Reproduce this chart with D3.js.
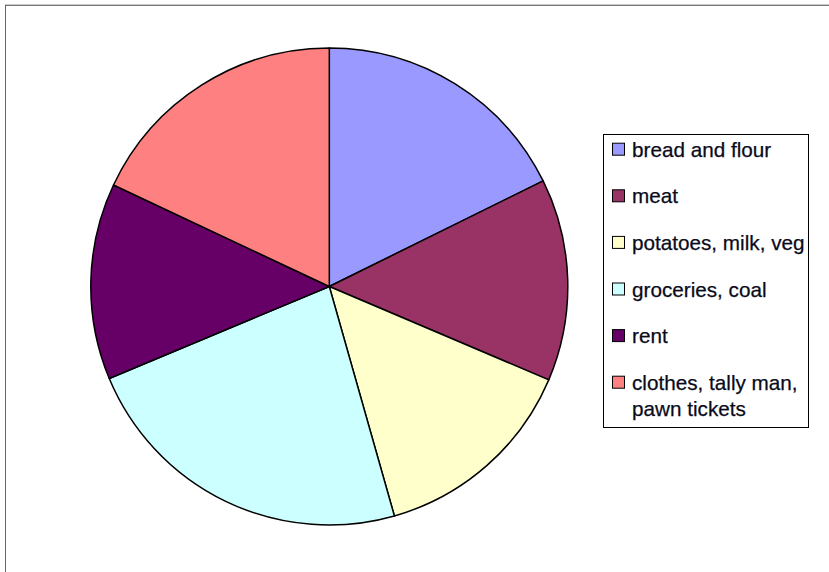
<!DOCTYPE html>
<html>
<head>
<meta charset="utf-8">
<script src="https://cdn.jsdelivr.net/npm/d3@7"></script>
<style>
  html, body { margin: 0; padding: 0; background: #fff; }
  #chart { width: 829px; height: 572px; }
</style>
</head>
<body>
<div id="chart"></div>
<script>
// weekly budget shares
const categories = ['bread and flour', 'meat', 'potatoes, milk, veg', 'groceries, coal', 'rent', 'clothes, tally man, pawn tickets'];
const values = [17.7, 13.7, 14.2, 23.1, 13.3, 18.0];
const colors = ['#9999FF', '#993366', '#FFFFCC', '#CCFFFF', '#660066', '#FF8080'];
// legend label lines
const legendLines = [['bread and flour'], ['meat'], ['potatoes, milk, veg'], ['groceries, coal'], ['rent'], ['clothes, tally man,', 'pawn tickets']];

const W = 829, H = 572;
const svg = d3.select('#chart').append('svg')
  .attr('width', W)
  .attr('height', H)
  .style('display', 'block');

// chart area frame (only top/left edges fall inside the picture)
svg.append('line').attr('x1', 5).attr('x2', W).attr('y1', 4.5).attr('y2', 4.5).attr('stroke', '#c8c8c8');
svg.append('line').attr('x1', 5).attr('x2', W).attr('y1', 5.5).attr('y2', 5.5).attr('stroke', '#777');
svg.append('line').attr('x1', 5.5).attr('x2', 5.5).attr('y1', 5).attr('y2', H).attr('stroke', '#666');

const cx = 329.3, cy = 286.5, R = 238.5;
const pie = d3.pie().sort(null).value(d => d.v);
const arc = d3.arc().innerRadius(0).outerRadius(R);
const data = categories.map((c, i) => ({ c, v: values[i], col: colors[i] }));

svg.append('g')
  .attr('transform', `translate(${cx},${cy})`)
  .selectAll('path')
  .data(pie(data))
  .enter().append('path')
  .attr('d', arc)
  .attr('fill', d => d.data.col)
  .attr('stroke', '#000')
  .attr('stroke-width', 1.5)
  .attr('stroke-linejoin', 'round');

// legend
const L = { x: 603.5, y: 134.5, w: 205, h: 293 };
const lg = svg.append('g');
lg.append('rect')
  .attr('x', L.x).attr('y', L.y).attr('width', L.w).attr('height', L.h)
  .attr('fill', '#fff').attr('stroke', '#000').attr('stroke-width', 1);

const row = d3.scaleLinear().domain([0, 1]).range([156.7, 203.3]);
categories.forEach((c, i) => {
  const base = row(i);
  lg.append('rect')
    .attr('x', 612.5).attr('y', base - 13.5).attr('width', 12).attr('height', 12)
    .attr('fill', colors[i]).attr('stroke', '#000').attr('stroke-width', 1);
  const t = lg.append('text')
    .attr('x', 632).attr('y', base)
    .attr('font-family', '"Liberation Sans", Arial, sans-serif')
    .attr('font-size', 20.7)
    .attr('fill', '#0a0a1a')
    .attr('stroke', '#0a0a1a')
    .attr('stroke-width', 0.25);
  legendLines[i].forEach((ln, j) => {
    t.append('tspan').attr('x', 632).attr('y', base + j * 26.7).text(ln);
  });
});
</script>
</body>
</html>
